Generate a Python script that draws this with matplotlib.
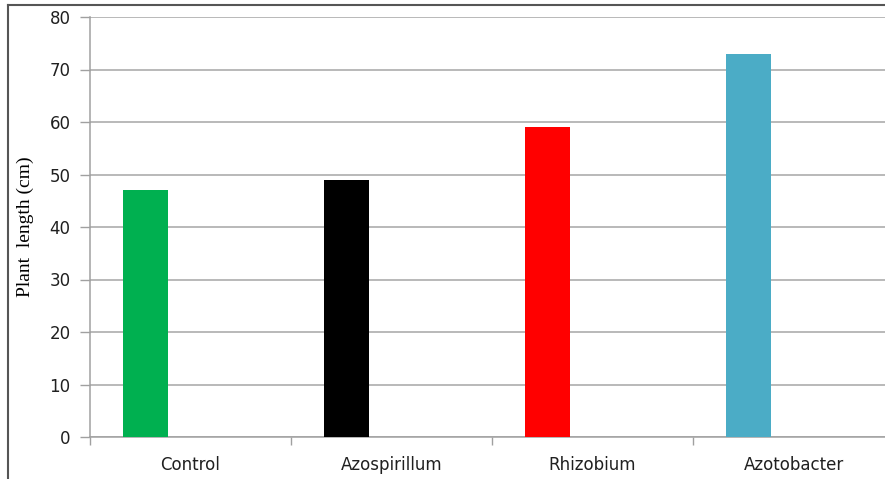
import matplotlib.pyplot as plt
from matplotlib.lines import Line2D

# Plant length per inoculation treatment
treatments = ['Control', 'Azospirillum', 'Rhizobium', 'Azotobacter']
plant_length = [47, 49, 59, 73]
bar_colors = ['#00B050', '#000000', '#FF0000', '#4BACC6']
y_ticks = [0, 10, 20, 30, 40, 50, 60, 70, 80]

W, H = 885, 479
fig = plt.figure(figsize=(W / 100, H / 100), dpi=100)

# plot area: x from 90px to beyond the right edge, y from 17px to 437px
ax = fig.add_axes([90 / W, (H - 437) / H, (894 - 90) / W, (437 - 17) / H])

x = range(len(treatments))
bar_w = 0.224
offset = -0.5 + 0.164 + bar_w / 2
ax.bar([i + offset for i in x], plant_length, width=bar_w,
       color=bar_colors, zorder=3)

ax.set_xlim(-0.5, len(treatments) - 0.5)
ax.set_ylim(0, 80)
ax.set_yticks(y_ticks)
ax.set_yticklabels([str(t) for t in y_ticks], fontsize=12,
                   family='DejaVu Sans', color='#202020')
ax.yaxis.grid(True, color='#a6a6a6', linewidth=1.1, zorder=0)

# category boundaries get the tick marks, labels sit in the middle
ax.set_xticks([i - 0.5 for i in range(len(treatments) + 1)])
ax.set_xticklabels([])
ax.set_xticks(list(x), minor=True)
ax.set_xticklabels(treatments, minor=True, fontsize=12,
                   family='DejaVu Sans', color='#202020')
ax.tick_params(axis='x', which='major', length=6, color='#a0a0a0', width=1)
ax.tick_params(axis='x', which='minor', length=0, pad=14)
ax.tick_params(axis='y', length=7, color='#a0a0a0', width=1, pad=7)

for side in ['top', 'right']:
    ax.spines[side].set_visible(False)
for side in ['left', 'bottom']:
    ax.spines[side].set_color('#a0a0a0')
    ax.spines[side].set_linewidth(1.1)

ax.set_ylabel('Plant  length (cm)', family='Liberation Serif', fontsize=14)
ax.yaxis.set_label_coords(-(90 - 34) / (894 - 90), 0.5)

# outer chart frame (left and top edges)
fig.add_artist(Line2D([8 / W, 8 / W], [0, (H - 5) / H], color='#555555',
                      linewidth=1.5, transform=fig.transFigure))
fig.add_artist(Line2D([8 / W, 1], [(H - 5) / H, (H - 5) / H], color='#555555',
                      linewidth=1.5, transform=fig.transFigure))

fig.savefig('out.png', dpi=100)
